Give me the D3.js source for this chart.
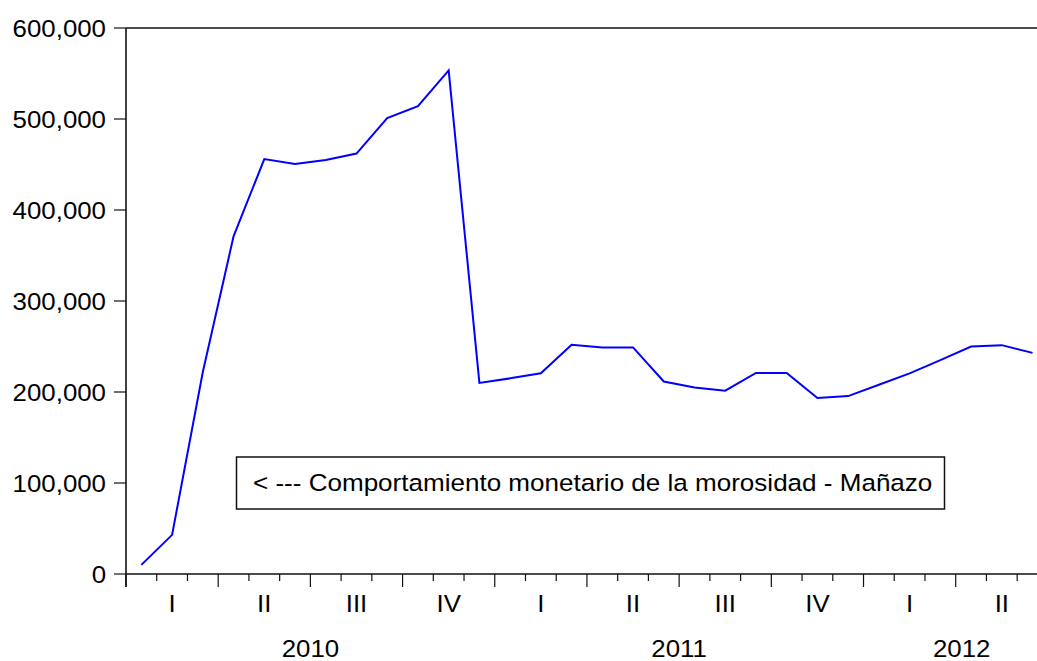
<!DOCTYPE html>
<html>
<head>
	<meta charset="utf-8">
	<title>morosidad</title>
	<style type="text/css">
		body { margin: 0; background: #fff; }
		text { font-family: "Liberation Sans", Arial, sans-serif; fill: #000; }
	</style>
</head>
<body>
<script type="text/javascript" src="https://d3js.org/d3.v7.min.js"></script>
<script type="text/javascript">
	// data: monthly, Jan 2010 .. Jun 2012
	var years = [2010, 2011, 2012];
	var quarterLabels = ["I", "II", "III", "IV"];
	var yTicks = [0, 100000, 200000, 300000, 400000, 500000, 600000];
	var values = [
		10000, 43000, 222000, 371000, 456000, 450500, 455000, 462000, 501000, 514000, 553500, 210000,
		215000, 220500, 252000, 249000, 249000, 211500, 205000, 201500, 221000, 221000, 193500, 195500,
		208000, 220500, 235000, 250000, 251500, 243000
	];
	var legendText = "< --- Comportamiento monetario de la morosidad - Mañazo";

	// layout
	var w = 1037, h = 661;
	var plotLeft = 126, plotTop = 28, plotBottom = 574;
	var monthW = 30.73;
	var nMonths = 30;
	var fs = 23.5, sx = 1.1;

	var svg = d3.select("body").append("svg")
		.attr("width", w).attr("height", h)
		.style("display", "block");

	var x = d3.scaleLinear().domain([0, nMonths]).range([plotLeft, plotLeft + nMonths * monthW]);
	var y = d3.scaleLinear().domain([0, 600000]).range([plotBottom, plotTop]);

	function label(g, tx, ty, str, anchor, k) {
		g.append("g")
			.attr("transform", "translate(" + tx + "," + ty + ") scale(" + (k || sx) + ",1)")
			.append("text")
			.attr("text-anchor", anchor)
			.attr("font-size", fs)
			.text(str);
	}

	// frame (top + left + bottom)
	svg.append("line").attr("x1", plotLeft).attr("x2", w + 20).attr("y1", plotTop).attr("y2", plotTop)
		.attr("stroke", "#111").attr("stroke-width", 1.6);
	svg.append("line").attr("x1", plotLeft).attr("x2", plotLeft).attr("y1", plotTop).attr("y2", plotBottom + 13)
		.attr("stroke", "#111").attr("stroke-width", 1.6);
	svg.append("line").attr("x1", plotLeft).attr("x2", w + 20).attr("y1", plotBottom).attr("y2", plotBottom)
		.attr("stroke", "#111").attr("stroke-width", 1.6);

	// y ticks
	var yg = svg.append("g");
	yTicks.forEach(function(v) {
		yg.append("line").attr("x1", plotLeft - 12).attr("x2", plotLeft)
			.attr("y1", y(v)).attr("y2", y(v))
			.attr("stroke", "#111").attr("stroke-width", 1.2);
		label(yg, plotLeft - 20, y(v) + 8.5, d3.format(",")(v), "end");
	});

	// x ticks: months (short), quarters (long)
	var xg = svg.append("g");
	d3.range(0, nMonths + 1).forEach(function(m) {
		var major = m % 3 === 0;
		xg.append("line").attr("x1", x(m)).attr("x2", x(m))
			.attr("y1", plotBottom).attr("y2", plotBottom + (major ? 13 : 7))
			.attr("stroke", "#111").attr("stroke-width", 1.2);
	});
	// quarter labels
	d3.range(0, nMonths / 3).forEach(function(q) {
		label(xg, x(q * 3 + 1.5), 611.5, quarterLabels[q % 4], "middle");
	});
	// year labels
	years.forEach(function(yr, i) {
		var s = i * 12, e = Math.min(s + 12, nMonths);
		label(xg, x((s + e) / 2) + (e - s < 12 ? 6 : 0), 656.5, String(yr), "middle");
	});

	// series
	var line = d3.line()
		.x(function(d, i) { return x(i + 0.5); })
		.y(function(d) { return y(d); });
	svg.append("path").datum(values)
		.attr("d", line)
		.attr("fill", "none")
		.attr("stroke", "#0000ff")
		.attr("stroke-width", 2);

	// legend
	var lg = svg.append("g");
	lg.append("rect").attr("x", 236.5).attr("y", 457).attr("width", 708).attr("height", 52)
		.attr("fill", "#fff").attr("stroke", "#111").attr("stroke-width", 1.5);
	label(lg, 253, 491, legendText, "start", 1.108);
</script>
</body>
</html>
